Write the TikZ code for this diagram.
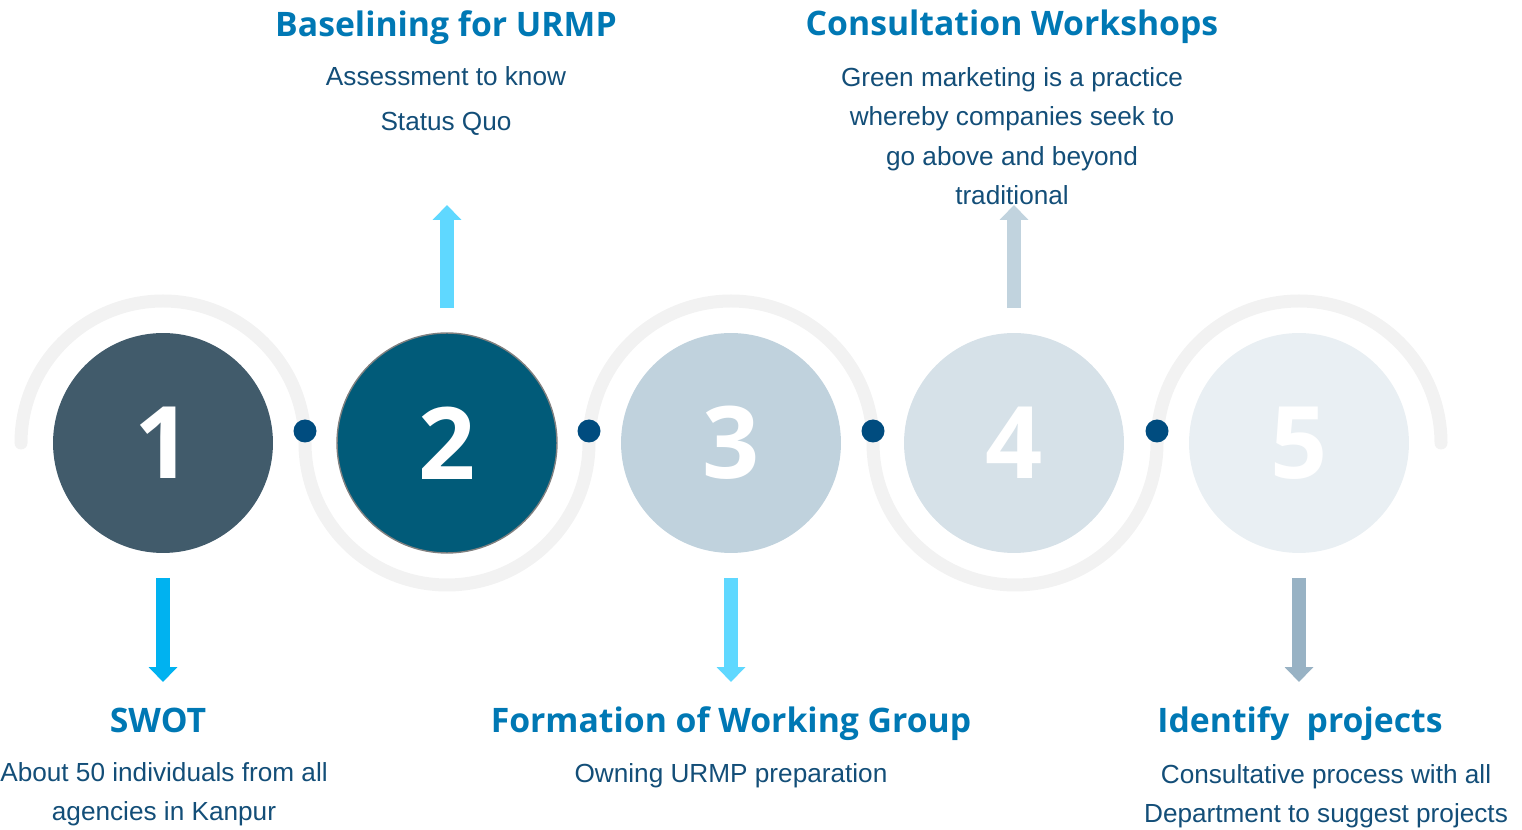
\documentclass[tikz,border=0pt]{standalone}
\usepackage{fontspec}
\setmainfont{Liberation Sans}
\newfontfamily\headfont{Open Sans}
\usepackage{tikz}
\usetikzlibrary{arrows.meta, positioning, calc}
\usepackage{xcolor}
\definecolor{trackgray}{HTML}{F2F2F2}
\definecolor{dotblue}{HTML}{004C7F}
\definecolor{titleblue}{HTML}{0078B4}
\definecolor{textblue}{HTML}{134E78}
\definecolor{stepA}{HTML}{415B6B}
\definecolor{stepB}{HTML}{015B79}
\definecolor{stepC}{HTML}{C0D2DD}
\definecolor{stepD}{HTML}{D6E1E8}
\definecolor{stepE}{HTML}{E9EFF3}
\definecolor{arrowA}{HTML}{00B2F0}
\definecolor{arrowB}{HTML}{5FD8FF}
\definecolor{arrowD}{HTML}{C1D3DE}
\definecolor{arrowE}{HTML}{98B2C4}
\tikzset{%
	stepcircle/.style={
		circle,
		minimum size=4.4cm,
		inner sep=0pt,
		outer sep=0pt,
		text=white,
		font=\headfont\bfseries\fontsize{57}{60}\selectfont
	},
	track/.style={
		draw=trackgray,
		line width=7.4pt,
		line cap=round
	},
	joint/.style={
		circle,
		fill=dotblue,
		minimum size=0.46cm,
		inner sep=0pt
	},
	steptitle/.style={
		font=\headfont\bfseries\fontsize{19.2}{23}\selectfont,
		text=titleblue,
		anchor=base,
		inner sep=0pt
	},
	stepbody/.style={
		font=\fontsize{14.9}{22.5}\selectfont,
		text=textblue,
		align=center,
		anchor=base,
		inner sep=0pt
	},
	steparrow/.style={
		line width=7.9pt,
		-{Triangle[width=15.9pt,length=8.5pt]},
		shorten <=14.2pt
	},
}

\begin{document}
\begin{tikzpicture}[x=0.02cm, y=-0.02cm]
	\useasboundingbox (0,0) rectangle (1522,830);
	
	% Draw the track
	\draw[track] (21,443)
		arc[start angle=180, end angle=360, radius=142]
		arc[start angle=180, end angle=0, radius=142]
		arc[start angle=180, end angle=360, radius=142]
		arc[start angle=180, end angle=0, radius=142]
		arc[start angle=180, end angle=360, radius=142];
	
	% Draw the circles
	\node[stepcircle, fill=stepA] (c1) at (163,443) {1};
	\node[stepcircle, fill=stepB, draw=gray, line width=0.8pt] (c2) at (447,443) {2};
	\node[stepcircle, fill=stepC] (c3) at (731,443) {3};
	\node[stepcircle, fill=stepD] (c4) at (1014,443) {4};
	\node[stepcircle, fill=stepE] (c5) at (1299,443) {5};
	
	% Draw the dots
	\node[joint] (d1) at (305,431) {};
	\node[joint] (d2) at (589,431) {};
	\node[joint] (d3) at (873,431) {};
	\node[joint] (d4) at (1157,431) {};
	
	% Draw the texts (base = last line)
	\node[steptitle] (t1) at (158,733) {SWOT};
	\node[stepbody] (b1) at (164,821) {About 50 individuals from all\\agencies in Kanpur};
	
	\node[steptitle] (t2) at (446,37) {Baselining for URMP};
	\node[stepbody, font=\fontsize{14.9}{26}\selectfont] (b2) at (446,131) {Assessment to know\\Status Quo};
	
	\node[steptitle] (t3) at (731,733) {Formation of Working Group};
	\node[stepbody] (b3) at (731,783) {Owning URMP preparation};
	
	\node[steptitle] (t4) at (1012,36) {Consultation Workshops};
	\node[stepbody] (b4) at (1012,205) {Green marketing is a practice\\whereby companies seek to\\go above and beyond\\traditional};
	
	\node[steptitle] (t5) at (1300,733) {Identify\ \ projects};
	\node[stepbody] (b5) at (1326,823) {Consultative process with all\\Department to suggest projects};
	
	% Draw the arrows
	\coordinate (e1) at (163,682);
	\coordinate (e2) at (447,205);
	\coordinate (e3) at (731,682);
	\coordinate (e4) at (1014,205);
	\coordinate (e5) at (1299,682);
	\draw[steparrow, arrowA] (c1) -- (e1);
	\draw[steparrow, arrowB] (c2) -- (e2);
	\draw[steparrow, arrowB] (c3) -- (e3);
	\draw[steparrow, arrowD] (c4) -- (e4);
	\draw[steparrow, arrowE] (c5) -- (e5);
	
\end{tikzpicture}
\end{document}
